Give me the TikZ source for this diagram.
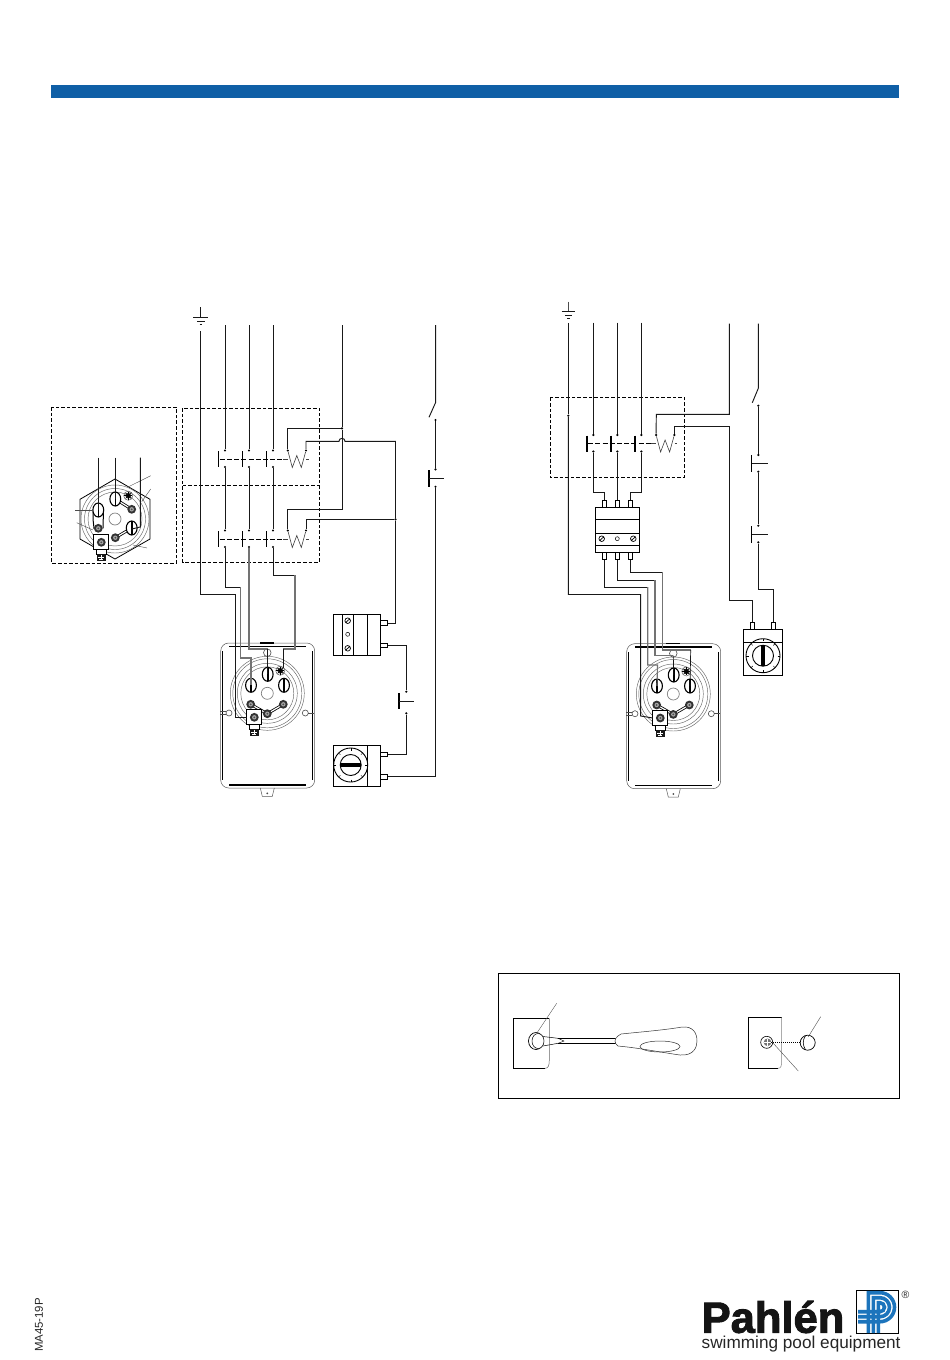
\documentclass[tikz,border=0pt]{standalone}
\usepackage{fontspec}
\setmainfont{Liberation Sans}
\newfontfamily\logofont[FakeBold=2.2]{Liberation Sans Bold}
\definecolor{barblue}{HTML}{0F5FA6}
\definecolor{logoblue}{HTML}{1C74BC}
\tikzset{
	wire/.style={line width=.95pt,black!90},
	greywire/.style={line width=1.15pt,black!55},
	thinline/.style={line width=.4pt,black!70},
	dashbox/.style={line width=.8pt,dash pattern=on 3.6pt off 2pt},
	dot/.style={circle,fill=black,inner sep=0,minimum size=2.4pt},
	cabinet/.style={draw,line width=.95pt,inner sep=0},
	sideterm/.style={draw,line width=.8pt,fill=white,inner sep=0,minimum width=6.6pt,minimum height=4.6pt},
	topterm/.style={draw,line width=.8pt,fill=white,inner sep=0,minimum width=3.8pt,minimum height=7pt},
	pics/slothead/.style={code={
		\draw[line width=1.1pt,fill=white] (0,0) ellipse (5.4 and 7);
		\draw[line width=1.6pt] (0,-7) -- (0,7);
	}},
	pics/nuthead/.style={code={
		\fill[black!80] (0,0) circle (4.4);
		\fill[black!35] (0,0) circle (2.2);
		\fill[black!70] (0,0) circle (1);
	}},
	pics/starhead/.style={code={
		\draw[thinline] (0,0) circle (4.6);
		\fill[black!85] (0,0) circle (2.8);
		\foreach \a in {0,45,...,315} \draw[line width=.6pt] (0,0) -- (\a:4);
	}},
	pics/earthblock/.style={code={
		\draw[line width=1.1pt,fill=white] (-7.5,-7.5) rectangle (7.5,7.5);
		\pic at (0,0) {nuthead};
		\draw[line width=.8pt,fill=white] (-5,7.5) rectangle (5,12);
		\fill[black!90] (-4.6,12) rectangle (4.6,19);
		\draw[white,line width=.7pt] (0,13) -- (0,18) (-3,15) -- (3,15) (-2,17) -- (2,17);
	}},
	pics/contactrow/.style={code={
		\foreach \b in {0,24,48} \draw[line width=1.3pt] (\b,0.5) -- (\b,16.5);
		\draw[line width=.8pt,dash pattern=on 5pt off 2.2pt] (1,8.7) -- (64,8.7);
		\node[dot] (-a1) at (6.2,0) {};
		\node[dot] (-a2) at (30.2,0) {};
		\node[dot] (-a3) at (54.2,0) {};
		\node[dot] (-b1) at (6.2,16.5) {};
		\node[dot] (-b2) at (30.2,16.5) {};
		\node[dot] (-b3) at (54.2,16.5) {};
		\node[dot] (-c1) at (69,0) {};
		\node[dot] (-c2) at (87.2,0) {};
		\draw[line width=.6pt,black!75] (-c1) -- (73.5,17) -- (78,5) -- (82.5,17) -- (-c2);
		\draw[line width=.6pt,black!75] (64,8.7) -- (69,8.7) (87.5,8.7) -- (90,8.7);
	}},
	pics/heaterunit/.style={code={
		\draw[line width=.5pt,black!65,rounded corners=8pt] (-46.6,-50.3) rectangle (47.4,94.7);
		\draw[line width=1.1pt] (-44.6,-42) -- (-44.6,87) (45.4,-42) -- (45.4,87);
		\draw[line width=1.1pt] (-38,-47) -- (39,-47) (-38,91.7) -- (39,91.7);
		\draw[line width=.5pt,black!65] (-7,94.7) -- (-5,103) -- (5,103) -- (7,94.7);
		\fill[black!70] (0,100) circle (1);
		\draw[line width=1.4pt] (-7,-50.5) -- (7,-50.5);
		\foreach \r in {37,34.5,30,26.5} \draw[line width=.45pt,black!60] (0,0) circle (\r);
		\draw[line width=.6pt,black!70,fill=white] (0,-40.6) circle (3.8);
		\draw[line width=.6pt,black!70,fill=white] (-38.3,19.7) circle (3);
		\draw[line width=.6pt,black!70,fill=white] (38,19.7) circle (3);
		\draw[line width=.5pt,black!70] (-47,18) -- (-41,18) (-47,21) -- (-41,21) (41,19.7) -- (47,19.7);
		\draw[line width=.7pt,black!50] (0,0) circle (6);
		\pic at (-16.3,-8) {slothead};
		\pic at (0.4,-19) {slothead};
		\pic at (16.7,-8) {slothead};
		\pic at (13,-22.6) {starhead};
		\draw[line width=.8pt,double=white,double distance=1.2pt] (-16.6,11) -- (0,20.4) -- (16,11);
		\pic at (-16.6,11) {nuthead};
		\pic at (0,20.4) {nuthead};
		\pic at (16,11) {nuthead};
		\pic at (-13,24) {earthblock};
		\coordinate (-t1) at (-16.3,-8);
		\coordinate (-t2) at (0.4,-19);
		\coordinate (-t3) at (16.7,-8);
		\coordinate (-pe) at (-20.5,24);
	}},
	pics/dial/.style={code={
		\draw[line width=.9pt] (0,0) circle (17);
		\draw[line width=.9pt] (0,0) circle (10.5);
		\foreach \a in {0,45,...,315} \draw[line width=.4pt] (\a:14.5) -- (\a:17);
		\fill (-10.5,-2) rectangle (10.5,2);
	}}
}
\begin{document}
\begin{tikzpicture}[x=1pt,y=-1pt]
\useasboundingbox (0,0) rectangle (950,1360);
\fill[barblue] (51,85) rectangle (899,98);

\node[dot,minimum size=0pt] (el) at (200.7,331) {};
\draw[wire] (200.7,307) -- (200.7,317);
\draw[wire,line width=.8pt] (193,317) -- (208,317) (197,321) -- (205,321) (199.5,324.5) -- (202,324.5);
\coordinate (la) at (225,325);
\coordinate (lb) at (249,325);
\coordinate (lc) at (273,325);
\coordinate (ln) at (342,325);
\coordinate (ls) at (435.7,325);

\draw[dashbox] (51.5,407) rectangle (176.5,563);
\draw[dashbox] (182.5,408) rectangle (319.5,562);
\draw[dashbox] (182.5,485.5) -- (319.5,485.5);

\pic (upper) at (218.8,450.5) {contactrow};
\pic (lower) at (218.8,530.5) {contactrow};
\draw[wire] (la) -- (upper-a1);
\draw[wire] (lb) -- (upper-a2);
\draw[wire] (lc) -- (upper-a3);
\draw[wire] (upper-b1) -- (lower-a1);
\draw[wire] (upper-b2) -- (lower-a2);
\draw[wire] (upper-b3) -- (lower-a3);

\node[dot] (nj) at (342,428.3) {};
\node[dot] (cj) at (395.5,519.3) {};
\draw[wire] (ln) -- (nj) -- (342,509.3) -- (287.8,509.3) -- (lower-c1);
\draw[wire] (nj) -- (287.8,428.3) -- (upper-c1);
\draw[wire] (upper-c2) -- (306,441.3) -- (339,441.3) arc[start angle=180,end angle=360,radius=3] -- (395.5,441.3) -- (cj);
\draw[wire] (lower-c2) -- (306,519.3) -- (cj);

\pic (hl) at (267.3,693.3) {heaterunit};
\draw[wire] (el) |- (235.7,594) -- (235.7,717.3) -- (hl-pe);
\draw[wire] (lower-b1) |- (240.8,587.3);
\draw[greywire] (240.8,587.3) |- (251,658) -- (hl-t1);
\draw[greywire] (lower-b2) |- (267.7,649);
\draw[wire,line width=.6pt] (267.7,649) -- (hl-t2);
\draw[wire] (lower-b3) |- (295,575);
\draw[greywire] (295,575) |- (283.3,649);
\draw[wire,line width=.6pt] (283.3,649) -- (283.3,668);

\node[cabinet,minimum width=47.4pt,minimum height=41pt] (relayl) at (357,634.8) {};
\draw[line width=.8pt] (342.7,614.3) -- (342.7,655.3) (353.3,614.3) -- (353.3,655.3) (367.7,614.3) -- (367.7,655.3);
\draw[line width=.7pt] (347.7,620.7) circle (2.8) (345.7,622.5) -- (349.7,618.9);
\draw[line width=.7pt] (347.7,648.3) circle (2.8) (345.7,650.1) -- (349.7,646.5);
\draw[line width=.5pt] (347.7,634.3) circle (2);
\node[sideterm] (ra) at (384,623) {};
\node[sideterm] (rb) at (384,645.3) {};
\node[cabinet,minimum width=47.4pt,minimum height=41pt] (timerl) at (357,765.8) {};
\draw[line width=.8pt] (367.7,745.3) -- (367.7,786.3);
\pic at (350.7,765) {dial};
\node[sideterm] (ta) at (384,754.3) {};
\node[sideterm] (tb) at (384,776.7) {};
\draw[wire] (cj) |- (ra.east);

\node[dot] (pa) at (406.3,691.7) {};
\node[dot] (pb) at (406.3,713.3) {};
\draw[line width=1.3pt] (399,693) -- (399,709);
\draw[wire] (399,701.7) -- (414.3,701.7);
\draw[wire] (rb.east) -| (pa);
\draw[wire] (pb) |- (ta.east);

\node[dot] (sa) at (435.5,420) {};
\node[dot] (sb) at (435.5,469.3) {};
\node[dot] (sc) at (435.5,486.7) {};
\draw[wire] (ls) -- (435.7,402.3) -- (429,417.3);
\draw[wire] (sa) -- (sb);
\draw[line width=1.3pt] (429,470) -- (429,487);
\draw[wire] (429,478.3) -- (444.3,478.3);
\draw[wire] (sc) |- (tb.east);

\draw[thinline,line width=.8pt] (568.3,301.7) -- (568.3,311.7);
\draw[wire,line width=.8pt] (561.7,311.7) -- (575,311.7) (565,315) -- (571.7,315) (567,318) -- (569.7,318);
\node[dot,minimum size=0pt] (er) at (568.3,322.7) {};
\coordinate (ra1) at (593.3,322.7);
\coordinate (ra2) at (617.3,322.7);
\coordinate (ra3) at (641.3,322.7);
\coordinate (rn) at (729.3,323.7);
\coordinate (rs) at (758.3,323.7);

\draw[dashbox] (550,397.3) rectangle (684.3,477.3);
\pic (mid) at (587.1,435) {contactrow};
\node[dot] (ej) at (568.3,415.7) {};
\draw[wire] (ra1) -- (mid-a1);
\draw[wire] (ra2) -- (mid-a2);
\draw[wire] (ra3) -- (mid-a3);
\draw[wire] (rn) -- (729.3,414.3) -- (656.3,414.3) -- (mid-c1);
\draw[wire] (mid-c2) -- (674.3,426.3) -- (729.3,426.3) -- (729.3,600) -- (752.7,600);

\node[cabinet,minimum width=44.4pt,minimum height=45.4pt] (relayr) at (617.5,530) {};
\draw[line width=.9pt] (595.3,519.3) -- (639.7,519.3) (595.3,533.3) -- (639.7,533.3) (595.3,545) -- (639.7,545);
\draw[line width=.7pt] (601.7,538.7) circle (2.8) (599.7,540.5) -- (603.7,536.9);
\draw[line width=.7pt] (633.3,538.7) circle (2.8) (631.3,540.5) -- (635.3,536.9);
\draw[line width=.5pt] (617.3,538.7) circle (2);
\node[topterm] (ua) at (604.3,503.8) {};
\node[topterm] (ub) at (617.3,503.8) {};
\node[topterm] (uc) at (630.3,503.8) {};
\node[topterm] (va) at (604.3,556.2) {};
\node[topterm] (vb) at (617.3,556.2) {};
\node[topterm] (vc) at (630.3,556.2) {};
\draw[wire] (mid-b1) |- (604.3,492.7) -- (ua.north);
\draw[wire] (mid-b2) -- (ub.north);
\draw[wire] (mid-b3) |- (630.3,492.7) -- (uc.north);

\pic (hr) at (673.3,694) {heaterunit};
\draw[wire] (ej) -- (er);
\draw[wire] (ej) |- (640.7,594.5) -- (640.7,716) -- (hr-pe);
\draw[wire] (va.south) |- (647.7,587);
\draw[greywire] (647.7,587) |- (657.5,665) -- (hr-t1);
\draw[wire] (vb.south) |- (655,580.3);
\draw[greywire] (655,580.3) |- (673.3,655.7);
\draw[wire,line width=.7pt] (673.3,655.7) -- (hr-t2);
\draw[wire] (vc.south) |- (662.7,572.3);
\draw[greywire] (662.7,572.3) |- (690.7,650);
\draw[wire,line width=.7pt] (690.7,650) -- (hr-t3);

\node[cabinet,minimum width=39.4pt,minimum height=46.4pt] (timerr) at (763,652.5) {};
\draw[line width=.8pt] (743.3,642.3) -- (782.7,642.3);
\pic[rotate=90] at (763,655.7) {dial};
\node[topterm] (wa) at (752.7,625.8) {};
\node[topterm] (wb) at (773.3,625.8) {};
\draw[wire] (752.7,600) -- (wa.north);

\node[dot] (qa) at (758.3,405.7) {};
\node[dot] (qb) at (758.3,455) {};
\node[dot] (qc) at (758.3,471.7) {};
\node[dot] (qd) at (758.3,525.7) {};
\node[dot] (qe) at (758.3,542.3) {};
\draw[wire] (rs) -- (758.3,388.3) -- (752.3,402.7);
\draw[wire] (qa) -- (qb);
\draw[line width=1.3pt] (751.7,455) -- (751.7,472);
\draw[wire] (751.7,463.3) -- (767.7,463.3);
\draw[wire] (qc) -- (qd);
\draw[line width=1.3pt] (751.7,526) -- (751.7,543);
\draw[wire] (751.7,534.3) -- (767.7,534.3);
\draw[wire] (qe) |- (773.3,589.3) -- (wb.north);

\begin{scope}[shift={(115,519)}]
	\draw[line width=.8pt,fill=white] (0,-40) -- (35,-19.7) -- (35,20) -- (0,40) -- (-35,20) -- (-35,-19.7) -- cycle;
	\foreach \r in {34,30.5,27} \draw[line width=.45pt,black!60] (0,0) circle (\r);
	\draw[line width=.7pt,black!50] (0,0) circle (6);
	\draw[line width=1pt] (-16.7,-9) -- (-22,-9) -- (-22,0) -- (-21,9.3) -- (-16.7,9.3) (-11.5,-9) -- (-12,9.3);
	\draw[line width=.8pt,double=white,double distance=1.2pt] (0.3,-20) -- (16.7,-9.7);
	\draw[line width=.8pt,double=white,double distance=1.2pt] (16.7,9) -- (0.3,18.7);
	\pic at (-16.7,-9) {slothead};
	\pic at (0.3,-20) {slothead};
	\pic at (16.7,9) {slothead};
	\pic at (13.3,-23.3) {starhead};
	\pic at (16.7,-9.7) {nuthead};
	\pic at (0.3,18.7) {nuthead};
	\pic at (-16.7,9.3) {nuthead};
	\pic at (-13.7,23.3) {earthblock};
	\draw[thinline] (13,-32) -- (35.7,-43.3);
	\draw[thinline] (26.7,-17.3) -- (35.7,-30);
	\draw[thinline] (-40,-9) -- (-22,-9);
	\draw[thinline] (-38.3,3.7) -- (-22,11);
	\draw[thinline] (18,26) -- (32,29);
\end{scope}
\coordinate (ka) at (98.3,457.7);
\coordinate (kb) at (115.3,457.7);
\coordinate (kc) at (140.3,457.7);
\draw[wire] (ka) -- (98.3,510);
\draw[wire] (kb) -- (115.3,499);
\draw[wire] (kc) -- (140.3,527) -- (131.7,529);

\draw[line width=.9pt] (498.3,973.3) rectangle (899.3,1098.3);

\draw[line width=.9pt] (549.3,1018.3) -- (513.3,1018.3) -- (513.3,1068.3) -- (545,1068.3);
\draw[line width=.5pt,black!60] (549.3,1018.3) -- (549.3,1060) .. controls (549.3,1066) and (548,1068.3) .. (545,1068.3);
\draw[line width=.7pt] (536,1041) ellipse (7.5 and 8.5);
\draw[line width=.5pt,fill=white] (538,1041) ellipse (6 and 7.5);
\draw[thinline] (556.7,1003.3) -- (536.7,1033.3);
\draw[line width=.5pt] (543,1036.5) -- (558,1038.3) -- (618,1038.3);
\draw[line width=.5pt] (543,1046) -- (558,1043.3) -- (618,1043.3);
\draw[line width=.9pt] (558,1038.3) -- (618,1038.3) (558,1043.3) -- (618,1043.3);
\draw[line width=.4pt] (558,1038.3) -- (564,1041) -- (558,1043.3);
\draw[line width=.5pt,black!80,fill=white] (618,1036) .. controls (614,1039) and (614,1043) .. (618,1046) .. controls (640,1048) and (665,1053) .. (680,1055) .. controls (694,1056) and (697,1047) .. (697,1041) .. controls (697,1033) and (693,1026) .. (682,1027) .. controls (665,1030) and (640,1032) .. (621,1034) -- cycle;
\draw[line width=.5pt,black!80] (660,1046.5) ellipse (20 and 5.5);

\draw[line width=.9pt] (781.7,1017.3) -- (748.3,1017.3) -- (748.3,1068.3) -- (778,1068.3);
\draw[line width=.5pt,black!50] (781.7,1017.3) -- (781.7,1060) .. controls (781.7,1066) and (781,1068.3) .. (778,1068.3);
\draw[line width=.6pt] (766.7,1042.3) circle (6);
\fill[black!55] (767.5,1042.3) circle (3.8);
\draw[line width=.5pt,white] (767.5,1039) -- (767.5,1046) (764,1042.3) -- (771,1042.3);
\draw[line width=.7pt] (807.7,1042.7) circle (7.5);
\draw[line width=.6pt] (805.5,1035.8) .. controls (802.5,1040) and (802.5,1045) .. (805.5,1049.8);
\draw[line width=.8pt,dash pattern=on 1.2pt off .8pt] (771,1042.7) -- (800.2,1042.7);
\draw[thinline] (820.7,1016.7) -- (808.3,1036.7);
\draw[thinline] (773.3,1043.3) -- (798.3,1071);

\node[rotate=90,anchor=center,font=\fontsize{11.4}{13}\selectfont,text=black!85] (docno) at (39,1325) {MA45-19P};
\node[anchor=base west,inner sep=0,font=\logofont\fontsize{43.5}{46}\selectfont,text=black!92] (brand) at (701.5,1332.7) {Pahlén};
\node[anchor=base west,inner sep=0,font=\fontsize{17.2}{19}\selectfont,text=black!85] (slogan) at (701.5,1348) {swimming pool equipment};
\node[inner sep=0,font=\fontsize{10.5}{12}\selectfont,text=black!85] (regd) at (905.5,1295) {®};
\draw[line width=.9pt,fill=white] (856,1290) rectangle (898.3,1333.3);
\draw[logoblue,line width=3.6pt] (868.3,1333) -- (868.3,1292.7) -- (880,1292.7) arc[start angle=-90,end angle=90,radius=14.5] -- (858,1321.7);
\draw[logoblue,line width=3.6pt] (873.3,1333) -- (873.3,1297.7) -- (880,1297.7) arc[start angle=-90,end angle=90,radius=9.5] -- (858,1316.7);
\draw[logoblue,line width=3.6pt] (878.3,1333) -- (878.3,1302.7) -- (880,1302.7) arc[start angle=-90,end angle=90,radius=4.5] -- (858,1311.7);
\end{tikzpicture}
\end{document}
